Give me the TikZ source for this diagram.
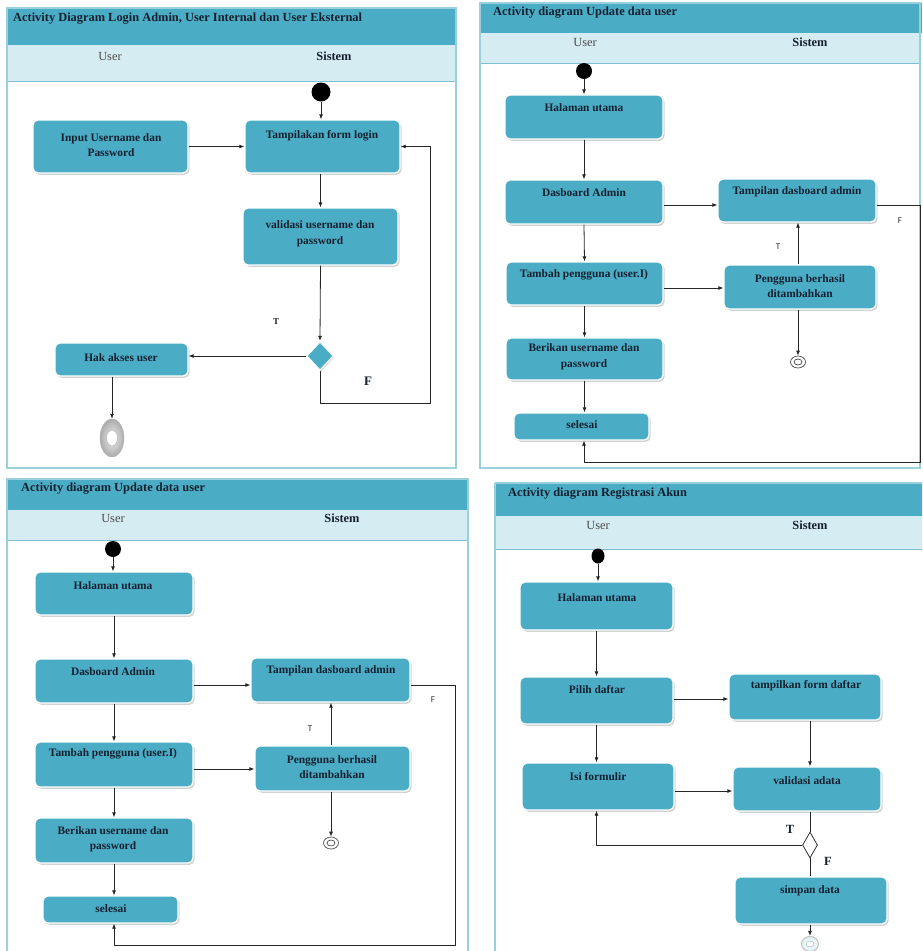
\documentclass[tikz,border=0pt]{standalone}
\usepackage{fontspec}
\setmainfont{Liberation Serif}
\newfontfamily\lblsans{Carlito}
\usetikzlibrary{shapes.geometric,arrows.meta,shadows,fit,calc}
\definecolor{boxblue}{HTML}{4BACC6}
\definecolor{hdrblue}{HTML}{D6ECF3}
\definecolor{frameblue}{HTML}{9ACFDD}
\definecolor{sepblue}{HTML}{7EC0D2}
\definecolor{txtc}{HTML}{14202E}
\tikzset{
  actbox/.style={rounded corners=5pt, fill=boxblue, draw=white, line width=1.3pt, inner sep=0pt,
    drop shadow={shadow xshift=1.6pt, shadow yshift=-1.8pt, opacity=0.35}},
  btxt/.style={font=\bfseries\fontsize{11.4}{15.5}\selectfont, text=txtc, align=center, inner sep=0pt},
  arr/.style={-{Latex[length=5pt,width=4pt]}, line width=0.8pt, draw=black!85},
  ln/.style={line width=0.8pt, draw=black!85},
  startdot/.style={circle, fill=black, inner sep=0pt},
  titletxt/.style={font=\bfseries\fontsize{12.4}{14}\selectfont, text=txtc, anchor=west, inner sep=0pt},
  lanetxt/.style={font=\fontsize{12.4}{14}\selectfont, text=black!70, inner sep=0pt},
  lanebold/.style={font=\bfseries\fontsize{12.4}{14}\selectfont, text=txtc, inner sep=0pt},
  tfsans/.style={font=\lblsans\fontsize{9}{10}\selectfont, text=black!80, inner sep=0pt},
  tfserif/.style={font=\bfseries\fontsize{12.5}{14}\selectfont, text=txtc, inner sep=0pt},
  smallend/.style={ellipse, draw=black!70, line width=0.7pt, minimum width=15pt, minimum height=12pt, inner sep=0pt},
  smallendin/.style={ellipse, draw=black!70, line width=0.7pt, minimum width=8pt, minimum height=6pt, inner sep=0pt},
}
\begin{document}
\begin{tikzpicture}[x=1pt,y=-1pt]
\useasboundingbox (0,0) rectangle (922,951);
\clip (0,0) rectangle (922,951);
\fill[white] (0,0) rectangle (922,951);

% ---------------- Panel frames ----------------
% Panel 1
\fill[boxblue] (7,8) rectangle (456,45);
\fill[hdrblue] (7,45) rectangle (456,81);
\draw[sepblue, line width=1pt] (7,81) -- (456,81);
\draw[frameblue, line width=1.5pt] (7,8) rectangle (456,468);
% Panel 2
\fill[boxblue] (480,3) rectangle (922,33);
\fill[hdrblue] (480,33) rectangle (920,63);
\draw[sepblue, line width=1pt] (480,63) -- (920,63);
\draw[frameblue, line width=1.5pt] (480,3) rectangle (920,468);
% Panel 3
\fill[boxblue] (7,479) rectangle (468,510);
\fill[hdrblue] (7,510) rectangle (468,540);
\draw[sepblue, line width=1pt] (7,540) -- (468,540);
\draw[frameblue, line width=1.5pt] (7,479) rectangle (468,956);
% Panel 4
\fill[boxblue] (495,483) rectangle (925,516);
\fill[hdrblue] (495,516) rectangle (925,549);
\draw[sepblue, line width=1pt] (495,549) -- (925,549);
\draw[frameblue, line width=1.5pt] (495,483) -- (495,956);
\draw[frameblue, line width=1.5pt] (495,483) -- (925,483);

% Titles and lanes
\node[titletxt] (t1) at (13,19) {Activity Diagram Login Admin, User Internal dan User Eksternal};
\node[lanetxt] (u1) at (110,56) {User};
\node[lanebold] (s1) at (334,56) {Sistem};
\node[titletxt] (t2) at (493,13) {Activity diagram Update data user};
\node[lanetxt] (u2) at (585,42) {User};
\node[lanebold] (s2) at (810,42) {Sistem};
\node[titletxt] (t3) at (21,489) {Activity diagram Update data user};
\node[lanetxt] (u3) at (113,518) {User};
\node[lanebold] (s3) at (342,518) {Sistem};
\node[titletxt] (t4) at (508,494) {Activity diagram Registrasi Akun};
\node[lanetxt] (u4) at (598,525) {User};
\node[lanebold] (s4) at (810,525) {Sistem};

% ---------------- Panel 1 ----------------
\node[startdot, minimum size=19pt] (p1s) at (321,92) {};
\node[actbox, fit={(245,120) (400,173)}] (p1tf) {};
\node[btxt] (p1tft) at (322,136) {Tampilakan form login};
\node[actbox, fit={(33,120) (188,173)}] (p1in) {};
\node[btxt] (p1int) at (111,145) {Input Username dan\\Password};
\node[actbox, fit={(243,208) (398,265)}] (p1va) {};
\node[btxt] (p1vat) at (320,234) {validasi username dan\\password};
\node[diamond, fill=boxblue, draw=white, line width=1.3pt, minimum width=27pt, minimum height=29pt, inner sep=0pt,
  drop shadow={shadow xshift=1.2pt, shadow yshift=-1.2pt, opacity=0.3}] (p1d) at (320,356) {};
\node[actbox, fit={(55,343) (188,376)}] (p1hk) {};
\node[btxt] (p1hkt) at (121,358) {Hak akses user};
\node[ellipse, minimum width=24pt, minimum height=38pt, inner sep=0pt, draw=gray!60,
  inner color=gray!15, outer color=gray!65] (p1e) at (112,438) {};
\node[ellipse, minimum width=11pt, minimum height=16pt, inner sep=0pt, fill=white, draw=gray!70] (p1ei) at (p1e) {};
\node[font=\bfseries\fontsize{9}{10}\selectfont, text=txtc, inner sep=0pt] (p1T) at (276,322) {T};
\node[font=\bfseries\fontsize{13}{14}\selectfont, text=txtc, inner sep=0pt] (p1F) at (368,381) {F};
\coordinate (p1c) at (430,403);

\draw[arr] (p1s) -- (p1s |- p1tf.north);
\draw[arr] (p1in.east) -- (p1tf.west);
\draw[arr] (p1tf.south -| p1va.north) -- (p1va.north);
\draw[arr] (p1va.south) -- (p1d.north);
\draw[arr] (p1d.west) -- (p1hk.east |- p1d.west);
\draw[arr] (p1e.north |- p1hk.south) -- (p1e.north);
\draw[arr] (p1d.south) |- (p1c) |- (p1tf.east);

% ---------------- Panel 2 ----------------
\node[startdot, minimum size=16pt] (p2s) at (584,71) {};
\node[actbox, fit={(505,95) (663,139)}] (p2hu) {};
\node[btxt] (p2hut) at (584,108) {Halaman utama};
\node[actbox, fit={(505,180) (663,224)}] (p2da) {};
\node[btxt] (p2dat) at (584,193) {Dasboard Admin};
\node[actbox, fit={(718,179) (876,222)}] (p2tp) {};
\node[btxt] (p2tpt) at (797,192) {Tampilan dasboard admin};
\node[actbox, fit={(506,262) (663,305)}] (p2tb) {};
\node[btxt] (p2tbt) at (584,275) {Tambah pengguna (user.I)};
\node[actbox, fit={(724,265) (876,309)}] (p2pb) {};
\node[btxt] (p2pbt) at (800,286) {Pengguna berhasil\\ditambahkan};
\node[actbox, fit={(506,338) (663,380)}] (p2bu) {};
\node[btxt] (p2but) at (584,357) {Berikan username dan\\password};
\node[actbox, fit={(514,413) (649,440)}] (p2se) {};
\node[btxt] (p2set) at (582,425) {selesai};
\node[smallend] (p2e) at (798,362) {};
\node[smallendin] (p2ei) at (p2e) {};
\node[tfsans] (p2T) at (778,247) {T};
\node[tfsans] (p2F) at (900,221) {F};
\coordinate (p2c) at (920,462);

\draw[arr] (p2s) -- (p2s |- p2hu.north);
\draw[arr] (p2hu.south) -- (p2da.north);
\draw[arr] (p2da.east |- 0,205) -- (p2tp.west |- 0,205);
\draw[arr] (p2da.south) -- (p2tb.north);
\draw[arr] (p2tb.east |- 0,288) -- (p2pb.west |- 0,288);
\draw[arr] (p2e.north |- p2pb.north) -- (p2e.north |- p2tp.south);
\draw[arr] (p2e.north |- p2pb.south) -- (p2e.north);
\draw[arr] (p2tb.south) -- (p2bu.north);
\draw[arr] (p2bu.south) -- (p2bu.south |- p2se.north);
\draw[arr] (p2tp.east |- 0,205) -| (p2c) -- (p2c -| p2hu.south) -- (p2hu.south |- p2se.south);

% ---------------- Panel 3 ----------------
\node[startdot, minimum size=16pt] (p3s) at (113,549) {};
\node[actbox, fit={(35,572) (193,615)}] (p3hu) {};
\node[btxt] (p3hut) at (113,586) {Halaman utama};
\node[actbox, fit={(35,659) (193,703)}] (p3da) {};
\node[btxt] (p3dat) at (113,672) {Dasboard Admin};
\node[actbox, fit={(251,658) (410,702)}] (p3tp) {};
\node[btxt] (p3tpt) at (331,671) {Tampilan dasboard admin};
\node[actbox, fit={(35,742) (193,787)}] (p3tb) {};
\node[btxt] (p3tbt) at (113,754) {Tambah pengguna (user.I)};
\node[actbox, fit={(255,746) (410,791)}] (p3pb) {};
\node[btxt] (p3pbt) at (332,767) {Pengguna berhasil\\ditambahkan};
\node[actbox, fit={(35,818) (193,863)}] (p3bu) {};
\node[btxt] (p3but) at (113,839) {Berikan username dan\\password};
\node[actbox, fit={(43,896) (178,923)}] (p3se) {};
\node[btxt] (p3set) at (111,909) {selesai};
\node[smallend] (p3e) at (331,843) {};
\node[smallendin] (p3ei) at (p3e) {};
\node[tfsans] (p3T) at (310,729) {T};
\node[tfsans] (p3F) at (433,700) {F};
\coordinate (p3c) at (455,945);

\draw[arr] (p3s) -- (p3s |- p3hu.north);
\draw[arr] (p3hu.south) -- (p3da.north);
\draw[arr] (p3da.east |- 0,685) -- (p3tp.west |- 0,685);
\draw[arr] (p3da.south) -- (p3tb.north);
\draw[arr] (p3tb.east |- 0,769) -- (p3pb.west |- 0,769);
\draw[arr] (p3e.north |- p3pb.north) -- (p3e.north |- p3tp.south);
\draw[arr] (p3e.north |- p3pb.south) -- (p3e.north);
\draw[arr] (p3tb.south) -- (p3bu.north);
\draw[arr] (p3bu.south) -- (p3bu.south |- p3se.north);
\draw[arr] (p3tp.east |- 0,685) -| (p3c) -- (p3c -| p3hu.south) -- (p3hu.south |- p3se.south);

% ---------------- Panel 4 ----------------
\node[startdot, minimum width=13pt, minimum height=15pt, ellipse] (p4s) at (598,556) {};
\node[actbox, fit={(520,582) (673,630)}] (p4hu) {};
\node[btxt] (p4hut) at (597,598) {Halaman utama};
\node[actbox, fit={(520,677) (673,724)}] (p4pd) {};
\node[btxt] (p4pdt) at (597,690) {Pilih daftar};
\node[actbox, fit={(729,674) (881,720)}] (p4tf) {};
\node[btxt] (p4tft) at (806,686) {tampilkan form daftar};
\node[actbox, fit={(522,763) (674,810)}] (p4if) {};
\node[btxt] (p4ift) at (598,777) {Isi formulir};
\node[actbox, fit={(733,767) (881,811)}] (p4va) {};
\node[btxt] (p4vat) at (807,781) {validasi adata};
\node[diamond, fill=white, draw=black!80, line width=0.8pt, minimum width=15pt, minimum height=26pt, inner sep=0pt] (p4d) at (810,845) {};
\node[actbox, fit={(735,877) (887,924)}] (p4sd) {};
\node[btxt] (p4sdt) at (810,891) {simpan data};
\node[ellipse, minimum width=17pt, minimum height=15pt, inner sep=0pt, draw=gray!45, line width=1.2pt, fill=hdrblue!60] (p4e) at (810,944) {};
\node[ellipse, minimum width=8pt, minimum height=6pt, inner sep=0pt, draw=gray!60, fill=white] (p4ei) at (p4e) {};
\node[tfserif] (p4T) at (790,829) {T};
\node[tfserif] (p4F) at (828,861) {F};

\draw[arr] (p4s) -- (p4s |- p4hu.north);
\draw[arr] (p4hu.south) -- (p4hu.south |- p4pd.north);
\draw[arr] (p4pd.east |- 0,699) -- (p4tf.west |- 0,699);
\draw[arr] (p4pd.south) -- (p4pd.south |- p4if.north);
\draw[arr] (p4d.north |- p4tf.south) -- (p4d.north |- p4va.north);
\draw[arr] (p4if.east |- 0,791) -- (p4va.west |- 0,791);
\draw[ln] (p4d.north |- p4va.south) -- (p4d.north);
\draw[arr] (p4d.west) -| (p4pd.south |- p4if.south);
\draw[ln] (p4d.south) -- (p4d.south |- p4sd.north);
\draw[arr] (p4d.south |- p4sd.south) -- (p4e.north);
\end{tikzpicture}
\end{document}
